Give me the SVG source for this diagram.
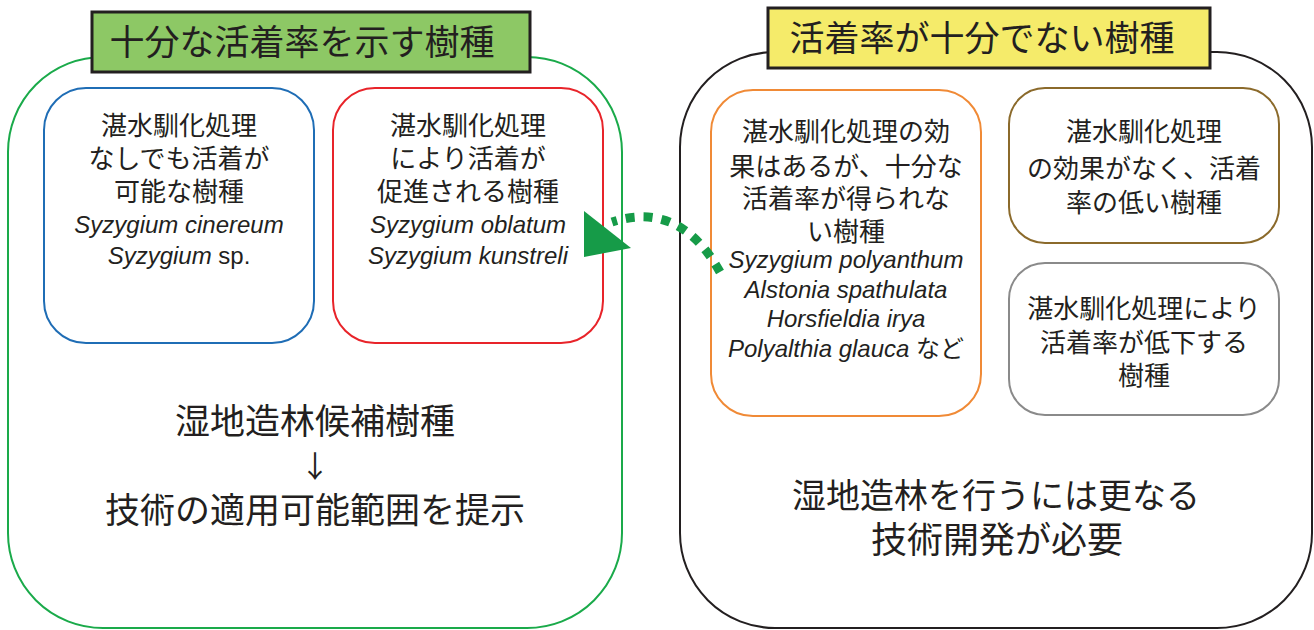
<svg xmlns="http://www.w3.org/2000/svg" width="1314" height="630" viewBox="0 0 1314 630">
<style>
.jp{font-family:"Liberation Sans","Noto Sans CJK JP",sans-serif;fill:#231f20;text-anchor:middle}
.s26{font-size:26px}
.s35{font-size:35px}
.it{font-family:"Liberation Sans","Noto Sans CJK JP",sans-serif;font-style:italic;font-size:24px;fill:#231f20;text-anchor:middle}
.up{font-style:normal}
.box{fill:#fff;stroke-width:2}
</style>
<rect width="1314" height="630" fill="#fff"/>
<g id="left-group">
<rect x="8" y="57" width="614" height="571" rx="95" fill="#fff" stroke="#1aaa4a" stroke-width="2"/>
<rect x="92" y="12" width="438" height="60" fill="#8dc865" stroke="#231f20" stroke-width="3"/>
<text class="jp s35" x="302" y="55">十分な活着率を示す樹種</text>
<text class="jp s35" x="315" y="434">湿地造林候補樹種</text>
<text style="font-family:'Noto Sans CJK JP',sans-serif;font-size:30px;fill:#231f20;text-anchor:middle" x="315" y="477">↓</text>
<text class="jp s35" x="315" y="523">技術の適用可能範囲を提示</text>
</g>
<g id="right-group">
<rect x="680" y="52" width="632" height="576" rx="95" fill="#fff" stroke="#231f20" stroke-width="2"/>
<rect x="768" y="8" width="442" height="60" fill="#f5eb6a" stroke="#231f20" stroke-width="3"/>
<text class="jp s35" x="982" y="51">活着率が十分でない樹種</text>
<text class="jp" style="font-size:34px" x="996" y="508">湿地造林を行うには更なる</text>
<text class="jp" style="font-size:36px" x="997" y="553">技術開発が必要</text>
</g>
<g id="node-blue">
<rect class="box" x="44" y="88" width="270" height="255" rx="42" stroke="#1f6db5"/>
<text class="jp s26" x="179" y="135">湛水馴化処理</text>
<text class="jp s26" x="179" y="168">なしでも活着が</text>
<text class="jp s26" x="179" y="201">可能な樹種</text>
<text class="it" x="179" y="233">Syzygium cinereum</text>
<text class="it" x="179" y="264">Syzygium <tspan class="up">sp.</tspan></text>
</g>
<g id="node-red">
<rect class="box" x="333" y="88" width="270" height="255" rx="42" stroke="#e8242a"/>
<text class="jp s26" x="468" y="135">湛水馴化処理</text>
<text class="jp s26" x="468" y="168">により活着が</text>
<text class="jp s26" x="468" y="201">促進される樹種</text>
<text class="it" x="468" y="233">Syzygium oblatum</text>
<text class="it" x="468" y="264">Syzygium kunstreli</text>
</g>
<g id="node-orange">
<rect class="box" x="711" y="90" width="270" height="326" rx="42" stroke="#f08a36"/>
<text class="jp s26" x="846" y="141">湛水馴化処理の効</text>
<text class="jp s26" x="846" y="176">果はあるが、十分な</text>
<text class="jp s26" x="846" y="208">活着率が得られな</text>
<text class="jp s26" x="846" y="241">い樹種</text>
<text class="it" x="846" y="268">Syzygium polyanthum</text>
<text class="it" x="846" y="298">Alstonia spathulata</text>
<text class="it" x="846" y="327">Horsfieldia irya</text>
<text class="it" x="846" y="357">Polyalthia glauca <tspan class="up">など</tspan></text>
</g>
<g id="node-brown">
<rect class="box" x="1009" y="88" width="270" height="155" rx="36" stroke="#8b6a2b"/>
<text class="jp s26" x="1144" y="141">湛水馴化処理</text>
<text class="jp s26" x="1144" y="178">の効果がなく、活着</text>
<text class="jp s26" x="1144" y="212">率の低い樹種</text>
</g>
<g id="node-gray">
<rect class="box" x="1009" y="263" width="270" height="152" rx="36" stroke="#8a8a8a"/>
<text class="jp s26" x="1144" y="318">湛水馴化処理により</text>
<text class="jp s26" x="1144" y="352">活着率が低下する</text>
<text class="jp s26" x="1144" y="385">樹種</text>
</g>
<g id="connectors">
<path d="M 720 272 Q 680 200 612 222" fill="none" stroke="#169b48" stroke-width="9" stroke-dasharray="9 9"/>
<polygon points="584,211 584,257 631,248" fill="#169b48"/>
</g>
</svg>
